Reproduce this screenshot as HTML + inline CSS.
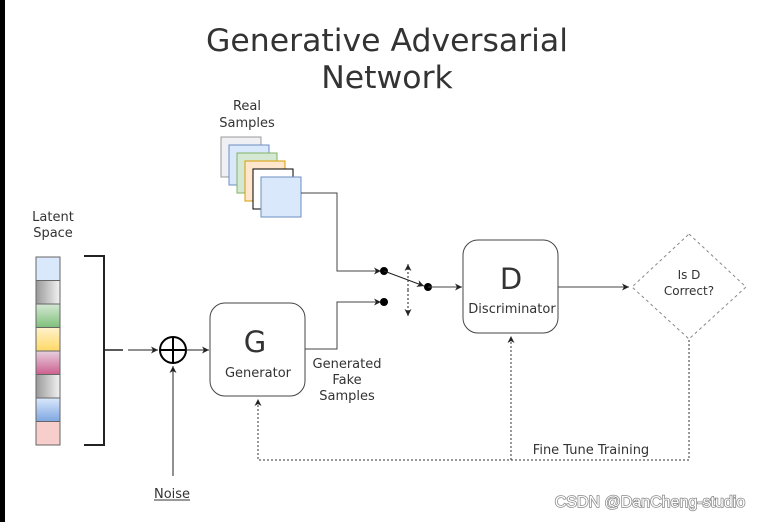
<!DOCTYPE html>
<html><head><meta charset="utf-8"><style>
html,body{margin:0;padding:0;background:#fff;}
svg{display:block;font-family:"DejaVu Sans","Liberation Sans",sans-serif;}
</style></head><body>
<svg width="771" height="522" viewBox="0 0 771 522" xmlns="http://www.w3.org/2000/svg">
<defs>
<marker id="a" markerWidth="8" markerHeight="8" refX="7" refY="4" orient="auto" markerUnits="userSpaceOnUse"><path d="M0,0.5 L7,4 L0,7.5 L2,4 Z" fill="#222"/></marker>
<linearGradient id="g1" x1="0" x2="1"><stop offset="0" stop-color="#999"/><stop offset="1" stop-color="#f2f2f2"/></linearGradient>
<linearGradient id="g2" x1="0" y1="0" x2="0" y2="1"><stop offset="0" stop-color="#d5e8d4"/><stop offset="1" stop-color="#7fc07a"/></linearGradient>
<linearGradient id="g3" x1="0" y1="0" x2="0" y2="1"><stop offset="0" stop-color="#fff2cc"/><stop offset="1" stop-color="#ffd966"/></linearGradient>
<linearGradient id="g4" x1="0" y1="0" x2="0" y2="1"><stop offset="0" stop-color="#e6d0de"/><stop offset="1" stop-color="#cd5f8e"/></linearGradient>
<linearGradient id="g5" x1="0" y1="0" x2="0" y2="1"><stop offset="0" stop-color="#dae8fc"/><stop offset="1" stop-color="#7ea6e0"/></linearGradient>
</defs>
<rect x="0" y="0" width="5" height="522" fill="#000"/>
<text x="387" y="51" font-size="31.5" text-anchor="middle" fill="#333">Generative Adversarial</text>
<text x="387" y="88" font-size="31.5" text-anchor="middle" fill="#333">Network</text>
<text x="247" y="110" font-size="13" text-anchor="middle" fill="#333">Real</text>
<text x="247" y="127" font-size="13" text-anchor="middle" fill="#333">Samples</text>
<g stroke-width="1">
<rect x="221" y="137" width="40" height="40" fill="#eef0f3" stroke="#999"/>
<rect x="229" y="145" width="40" height="40" fill="#dae8fc" stroke="#6c8ebf"/>
<rect x="237" y="153" width="40" height="40" fill="#d5e8d4" stroke="#82b366"/>
<rect x="245" y="161" width="40" height="40" fill="#ffe6cc" stroke="#d79b00"/>
<rect x="253" y="169" width="40" height="40" fill="#fff" stroke="#000"/>
<rect x="261" y="177" width="40" height="40" fill="#dae8fc" stroke="#6c8ebf"/>
</g>
<text x="53" y="221" font-size="13" text-anchor="middle" fill="#333">Latent</text>
<text x="53" y="237" font-size="13" text-anchor="middle" fill="#333">Space</text>
<g stroke="#666" stroke-width="1">
<rect x="36" y="257" width="24" height="23.5" fill="#dae8fc"/>
<rect x="36" y="280.5" width="24" height="23.5" fill="url(#g1)"/>
<rect x="36" y="304" width="24" height="23.5" fill="url(#g2)"/>
<rect x="36" y="327.5" width="24" height="23.5" fill="url(#g3)"/>
<rect x="36" y="351" width="24" height="23.5" fill="url(#g4)"/>
<rect x="36" y="374.5" width="24" height="23.5" fill="url(#g1)"/>
<rect x="36" y="398" width="24" height="23.5" fill="url(#g5)"/>
<rect x="36" y="421.5" width="24" height="23.5" fill="#f8cecc"/>
</g>
<path d="M84,256 H104 V445 H84" fill="none" stroke="#222" stroke-width="2"/>
<path d="M104,350 H123" stroke="#222" stroke-width="1.5"/>
<path d="M128,350 H158" stroke="#222" stroke-width="1" marker-end="url(#a)"/>
<circle cx="173" cy="350" r="13" fill="none" stroke="#000" stroke-width="2"/>
<path d="M160,350 H186 M173,337 V363" stroke="#000" stroke-width="2"/>
<path d="M186,350 H209" stroke="#222" marker-end="url(#a)"/>
<path d="M173,476 V366" stroke="#222" marker-end="url(#a)"/>
<text x="172" y="498" font-size="13" text-anchor="middle" fill="#333">Noise</text>
<line x1="154" y1="500" x2="190" y2="500" stroke="#333"/>
<rect x="210" y="303" width="95" height="93" rx="15" fill="#fff" stroke="#444"/>
<text x="255" y="352" font-size="29" text-anchor="middle" fill="#333">G</text>
<text x="258" y="377" font-size="13" text-anchor="middle" fill="#333">Generator</text>
<path d="M305,349 H337 V302 H381" fill="none" stroke="#444" marker-end="url(#a)"/>
<path d="M301,193 H337 V271 H381" fill="none" stroke="#444" marker-end="url(#a)"/>
<circle cx="384" cy="271" r="4" fill="#000"/>
<circle cx="384" cy="302" r="4" fill="#000"/>
<path d="M384,271 L424,286" stroke="#222" marker-end="url(#a)"/>
<circle cx="428" cy="287" r="4" fill="#000"/>
<path d="M408,290 V316" stroke="#222" stroke-dasharray="2,2" marker-end="url(#a)"/>
<path d="M408,290 V264" stroke="#222" stroke-dasharray="2,2" marker-end="url(#a)"/>
<path d="M428,287 H462" stroke="#444" marker-end="url(#a)"/>
<text x="347" y="368" font-size="13" text-anchor="middle" fill="#333">Generated</text>
<text x="347" y="384" font-size="13" text-anchor="middle" fill="#333">Fake</text>
<text x="347" y="400" font-size="13" text-anchor="middle" fill="#333">Samples</text>
<rect x="463" y="240" width="95" height="93" rx="15" fill="#fff" stroke="#444"/>
<text x="511" y="289" font-size="29" text-anchor="middle" fill="#333">D</text>
<text x="512" y="313" font-size="13" text-anchor="middle" fill="#333">Discriminator</text>
<path d="M558,287 H629" stroke="#444" marker-end="url(#a)"/>
<path d="M689,234 L746,287 L689,339 L632,287 Z" fill="#fff" stroke="#888" stroke-dasharray="3,3"/>
<text x="689" y="279" font-size="12" text-anchor="middle" fill="#333">Is D</text>
<text x="689" y="295" font-size="12" text-anchor="middle" fill="#333">Correct?</text>
<path d="M689,340 V460 H258 V399" fill="none" stroke="#333" stroke-dasharray="2,2" marker-end="url(#a)"/>
<path d="M511,460 V336" fill="none" stroke="#333" stroke-dasharray="2,2" marker-end="url(#a)"/>
<text x="591" y="454" font-size="13" text-anchor="middle" fill="#333">Fine Tune Training</text>
<text x="650" y="507" font-size="16" text-anchor="middle" fill="#fff" stroke="#888" stroke-width="1.5" paint-order="stroke" font-family="Liberation Sans, sans-serif">CSDN @DanCheng-studio</text>
</svg>
</body></html>
